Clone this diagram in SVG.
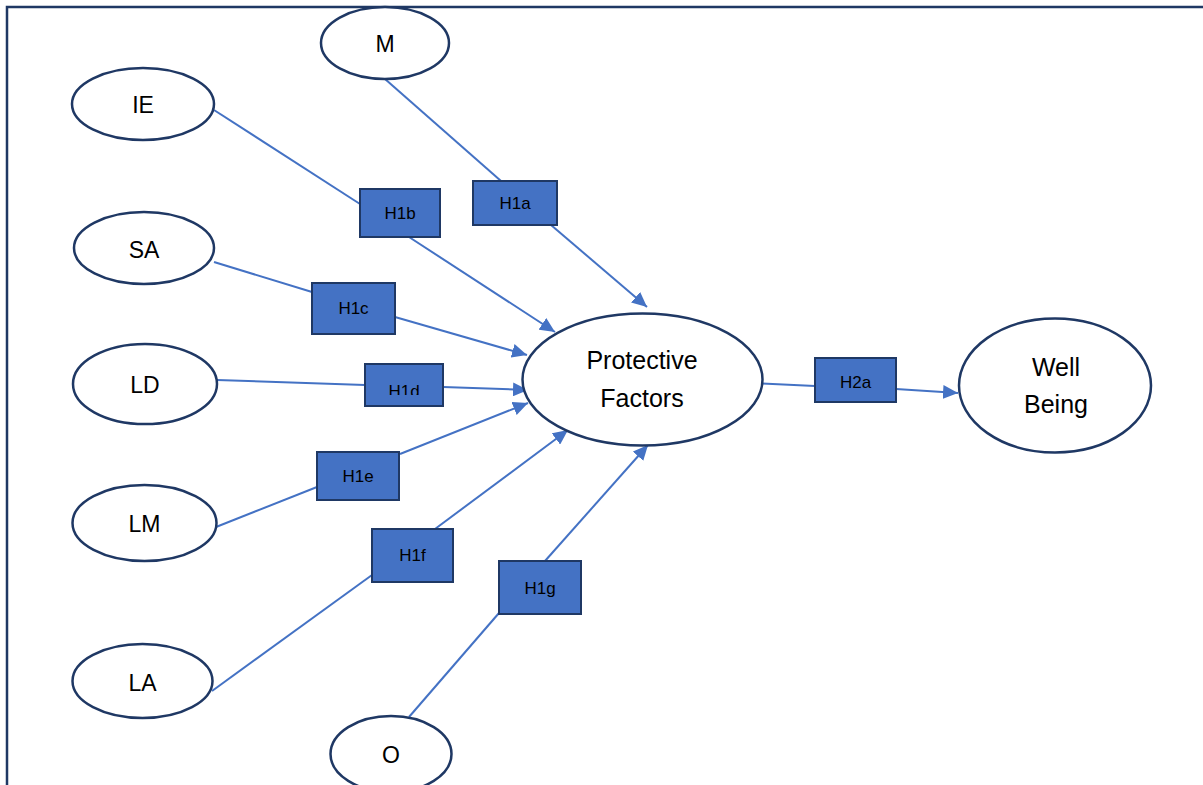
<svg xmlns="http://www.w3.org/2000/svg" width="1203" height="785" viewBox="0 0 1203 785">
<defs>
<style>
.frame{fill:none;stroke:#1F3864;stroke-width:2.5}
.node ellipse{fill:#fff;stroke:#1F3864;stroke-width:2.5}
.lbl{font-family:"Liberation Sans",Arial,sans-serif;font-size:23px;fill:#000;text-anchor:middle}
.big{font-size:25px}
.box rect{fill:#4472C4;stroke:#1F3864;stroke-width:2}
.box text{font-family:"Liberation Sans",Arial,sans-serif;font-size:17px;fill:#000;text-anchor:middle}
.conn line{stroke:#4472C4;stroke-width:2;fill:none}
.arr{marker-end:url(#ah)}
</style>
<marker id="ah" markerUnits="userSpaceOnUse" markerWidth="16" markerHeight="14" refX="15" refY="7" orient="auto">
<path d="M0,0 L15,7 L0,14 Z" fill="#4472C4"/>
</marker>
<clipPath id="clipH1d"><rect x="365" y="364" width="78" height="31"/></clipPath>
</defs>
<rect class="frame" x="7" y="7" width="1300" height="900"/>
<g id="connectors" class="conn">
<line x1="385" y1="79" x2="501" y2="181"/>
<line class="arr" x1="551" y1="225" x2="647" y2="307"/>
<line x1="214" y1="110" x2="360" y2="204"/>
<line class="arr" x1="409" y1="237" x2="555" y2="332"/>
<line x1="214" y1="262" x2="312" y2="292"/>
<line class="arr" x1="395" y1="317" x2="527" y2="355"/>
<line x1="217" y1="380" x2="365" y2="385"/>
<line class="arr" x1="443" y1="387" x2="528" y2="390"/>
<line x1="216" y1="527" x2="317" y2="487"/>
<line class="arr" x1="400" y1="454" x2="528" y2="403"/>
<line x1="212" y1="691" x2="372" y2="575"/>
<line class="arr" x1="435" y1="529" x2="568" y2="430"/>
<line x1="409" y1="717" x2="499" y2="613"/>
<line class="arr" x1="545" y1="561" x2="648" y2="445"/>
<line x1="753" y1="383" x2="815" y2="386"/>
<line class="arr" x1="896" y1="389" x2="958" y2="393"/>
</g>
<g id="node-M" class="node"><ellipse cx="385" cy="43" rx="64" ry="36"/><text class="lbl" x="385" y="52">M</text></g>
<g id="node-IE" class="node"><ellipse cx="143" cy="104" rx="71" ry="36"/><text class="lbl" x="143" y="113">IE</text></g>
<g id="node-SA" class="node"><ellipse cx="144" cy="248" rx="70" ry="36"/><text class="lbl" x="144" y="258">SA</text></g>
<g id="node-LD" class="node"><ellipse cx="145" cy="384" rx="72" ry="40"/><text class="lbl" x="145" y="393">LD</text></g>
<g id="node-LM" class="node"><ellipse cx="144.5" cy="523" rx="72" ry="38"/><text class="lbl" x="144.5" y="532">LM</text></g>
<g id="node-LA" class="node"><ellipse cx="142.5" cy="681" rx="70" ry="37"/><text class="lbl" x="142.5" y="691">LA</text></g>
<g id="node-O" class="node"><ellipse cx="391" cy="754" rx="60.5" ry="38"/><text class="lbl" x="391" y="763">O</text></g>
<g id="node-PF" class="node"><ellipse cx="642.5" cy="379.5" rx="120" ry="66"/><text class="lbl big" x="642" y="369">Protective</text><text class="lbl big" x="642" y="407">Factors</text></g>
<g id="node-WB" class="node"><ellipse cx="1055" cy="385.5" rx="96" ry="67"/><text class="lbl big" x="1056" y="376">Well</text><text class="lbl big" x="1056" y="413">Being</text></g>
<g id="box-H1a" class="box"><rect x="473" y="181" width="84" height="44"/><text x="515" y="209">H1a</text></g>
<g id="box-H1b" class="box"><rect x="360" y="189" width="80" height="48"/><text x="400" y="219">H1b</text></g>
<g id="box-H1c" class="box"><rect x="312" y="283" width="83" height="51"/><text x="353.5" y="314">H1c</text></g>
<g id="box-H1d" class="box"><rect x="365" y="364" width="78" height="42"/><text x="404" y="397" clip-path="url(#clipH1d)">H1d</text></g>
<g id="box-H1e" class="box"><rect x="317" y="452" width="82" height="48"/><text x="358" y="482">H1e</text></g>
<g id="box-H1f" class="box"><rect x="372" y="529" width="81" height="53"/><text x="412.5" y="561">H1f</text></g>
<g id="box-H1g" class="box"><rect x="499" y="561" width="82" height="53"/><text x="540" y="594">H1g</text></g>
<g id="box-H2a" class="box"><rect x="815" y="358" width="81" height="44"/><text x="855.5" y="388">H2a</text></g>
</svg>
